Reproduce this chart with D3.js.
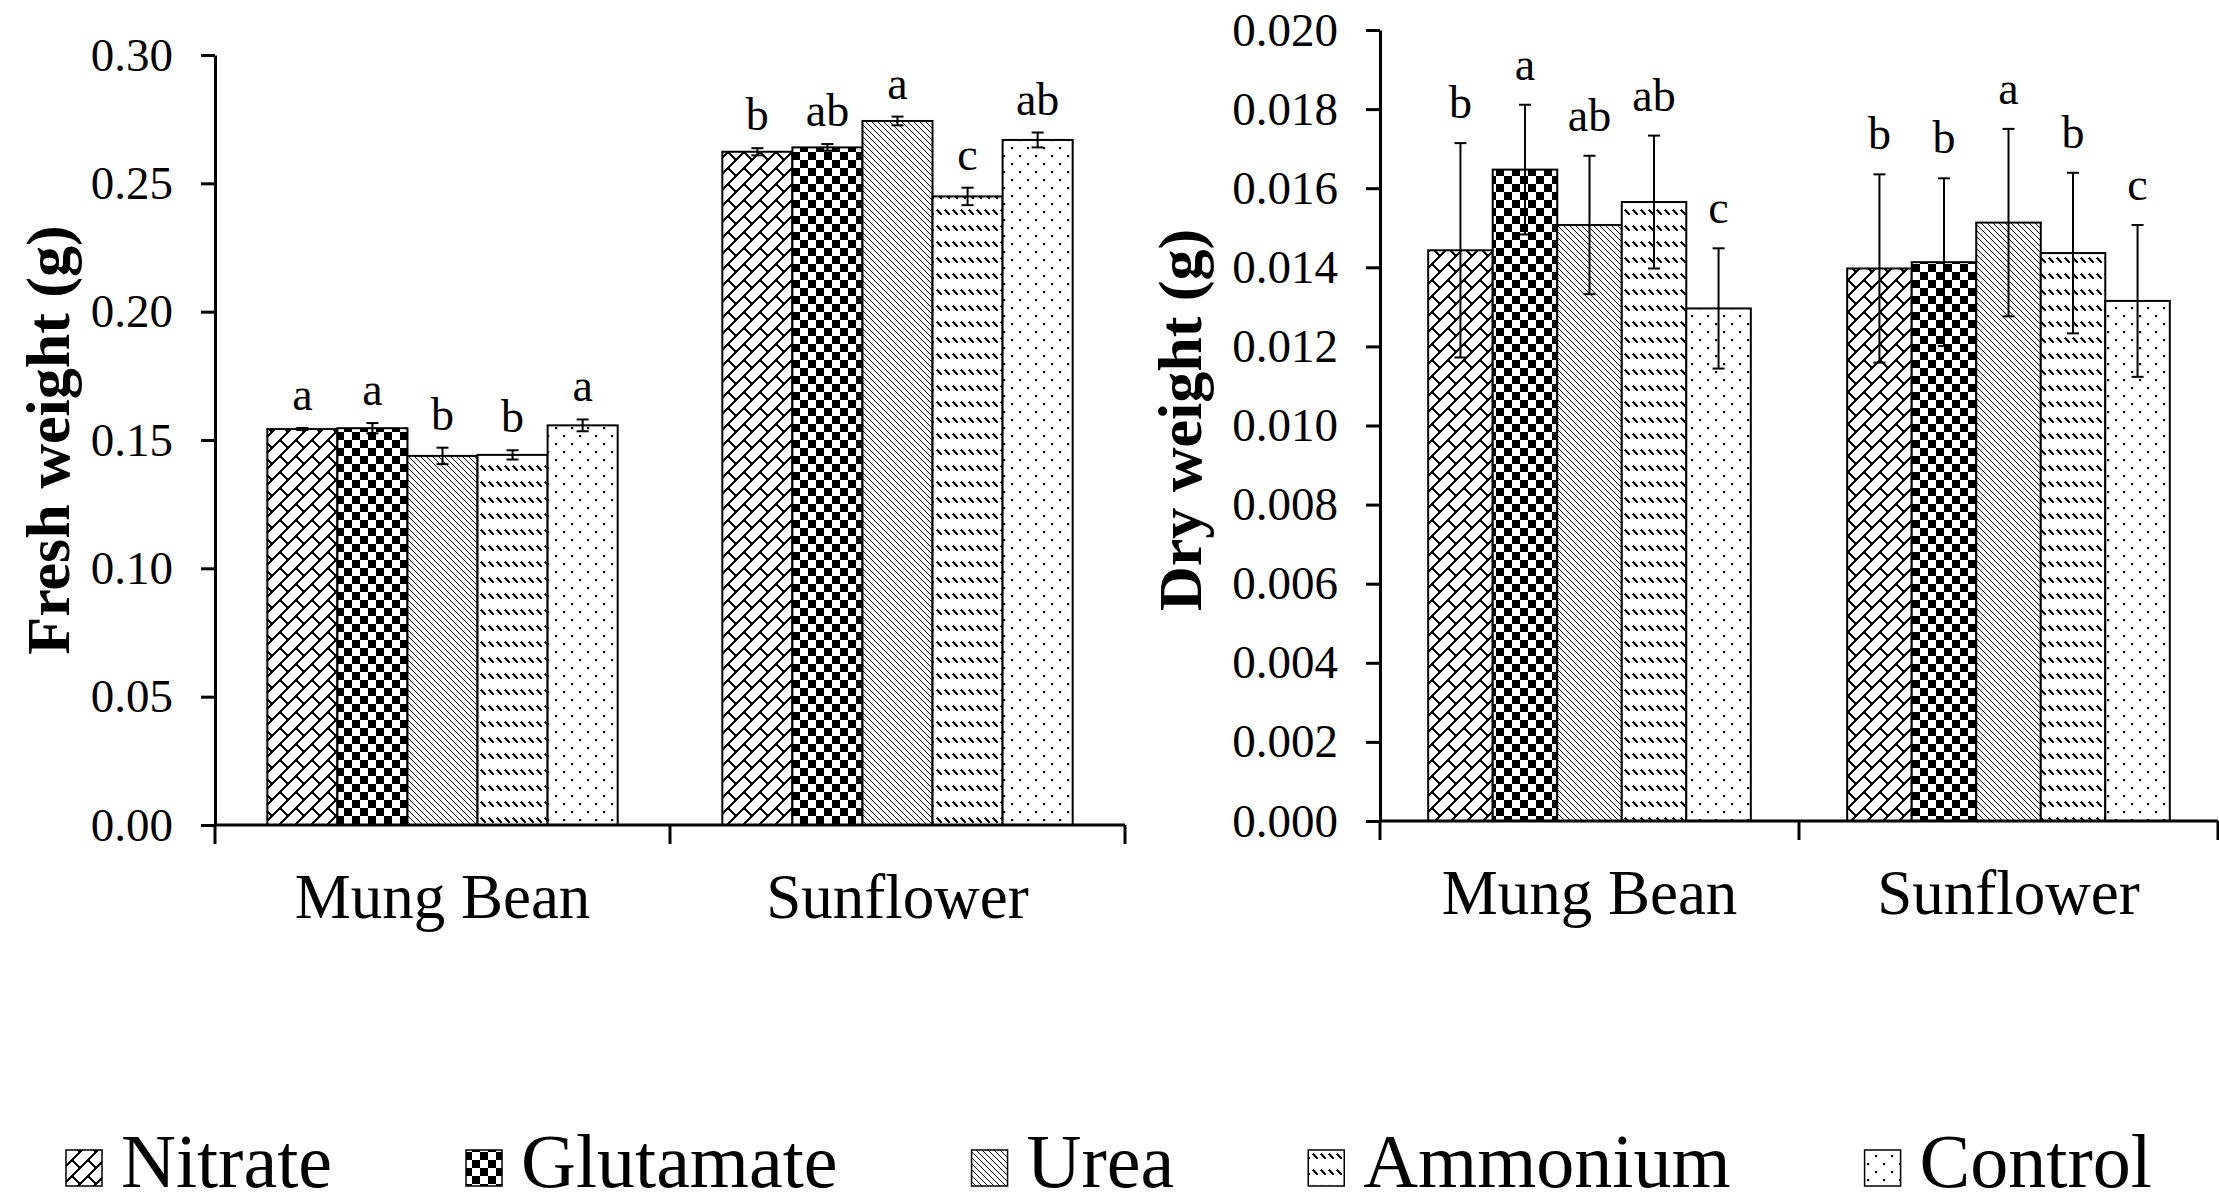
<!DOCTYPE html>
<html><head><meta charset="utf-8">
<script src="https://cdn.jsdelivr.net/npm/d3@7"></script>
<style>html,body{margin:0;padding:0;background:#fff;overflow:hidden}</style>
</head><body><svg id="c" width="2219" height="1204"></svg>
<script>
// ---------------- data ----------------
const categories = ["Mung Bean", "Sunflower"];
const treatments = ["Nitrate", "Glutamate", "Urea", "Ammonium", "Control"];

const freshMean = [[0.1543, 0.1546, 0.1438, 0.1442, 0.1557],
                   [0.2623, 0.2640, 0.2743, 0.2449, 0.2669]];
const freshErr  = [[0.0004, 0.0020, 0.0032, 0.0018, 0.0023],
                   [0.0014, 0.0013, 0.0017, 0.0034, 0.0029]];
const freshLetters = [["a", "a", "b", "b", "a"],
                      ["b", "ab", "a", "c", "ab"]];
const freshTicks = [0, 0.05, 0.10, 0.15, 0.20, 0.25, 0.30];

const dryMean = [[0.01443, 0.01647, 0.01507, 0.01565, 0.01296],
                 [0.01397, 0.01413, 0.01513, 0.01436, 0.01315]];
const dryErr  = [[0.00271, 0.00164, 0.00175, 0.00168, 0.00152],
                 [0.00238, 0.00212, 0.00237, 0.00203, 0.00192]];
const dryLetters = [["b", "a", "ab", "ab", "c"],
                    ["b", "b", "a", "b", "c"]];
const dryTicks = [0, 0.002, 0.004, 0.006, 0.008, 0.010, 0.012, 0.014, 0.016, 0.018, 0.020];

const yTitles = ["Fresh weight (g)", "Dry weight (g)"];

// ---------------- setup ----------------
const W = 2219, H = 1204;
const FONT = "'Liberation Serif','Times New Roman',Times,serif";
const svg = d3.select("#c");
svg.append("rect").attr("width", W).attr("height", H).attr("fill", "#fff");
const defs = svg.append("defs");

function pat(id, w, h, draw) {
  const p = defs.append("pattern").attr("id", id)
    .attr("patternUnits", "userSpaceOnUse").attr("width", w).attr("height", h);
  p.append("rect").attr("width", w).attr("height", h).attr("fill", "#fff");
  draw(p);
}
function ln(p, x1, y1, x2, y2, sw) {
  p.append("line").attr("x1", x1).attr("y1", y1).attr("x2", x2).attr("y2", y2)
    .attr("stroke", "#000").attr("stroke-width", sw).attr("shape-rendering", "crispEdges");
}
// Nitrate: diagonal brick
pat("p0", 16, 16, p => {
  ln(p, -2, 2, 2, -2, 1.6);
  ln(p, -1, 17, 17, -1, 1.6);
  ln(p, 14, 18, 18, 14, 1.6);
  ln(p, 8, 8, 16, 16, 1.6);
});
// Glutamate: checkerboard
pat("p1", 16, 16, p => {
  p.append("rect").attr("x", 0).attr("y", 0).attr("width", 8).attr("height", 8).attr("fill", "#000");
  p.append("rect").attr("x", 8).attr("y", 8).attr("width", 8).attr("height", 8).attr("fill", "#000");
});
// Urea: dense downward diagonal
pat("p2", 6, 6, p => {
  ln(p, -1, -1, 7, 7, 1.3);
  ln(p, 5, -1, 7, 1, 1.3);
  ln(p, -1, 5, 1, 7, 1.3);
});
// Ammonium: dashed downward diagonal rows
pat("p3", 8, 16, p => {
  ln(p, 1, 2, 6, 7, 2);
});
// Control: sparse dots
pat("p4", 16, 16, p => {
  p.append("rect").attr("x", 3).attr("y", 3).attr("width", 2.2).attr("height", 2.2).attr("fill", "#000");
  p.append("rect").attr("x", 11).attr("y", 11).attr("width", 2.2).attr("height", 2.2).attr("fill", "#000");
});
const fillOf = i => `url(#p${i})`;

// ---------------- chart ----------------
function drawChart(cfg) {
  const { x0, x1, yBase, yTop, yMax, ticks, fmt, means, errs, letters, letterOff, title, titleX, titleY } = cfg;
  const y = d3.scaleLinear().domain([0, yMax]).range([yBase, yTop]);
  const xb = d3.scaleBand().domain(categories).range([x0, x1]).padding(0);
  const bw = xb.bandwidth();
  const xi = d3.scaleBand().domain(treatments).range([0.115 * bw, 0.885 * bw]).padding(0);
  const g = svg.append("g");

  categories.forEach((c, ci) => {
    treatments.forEach((t, ti) => {
      const v = means[ci][ti], e = errs[ci][ti];
      const bx = xb(c) + xi(t), w = xi.bandwidth();
      g.append("rect").attr("x", bx).attr("y", y(v)).attr("width", w).attr("height", yBase - y(v))
        .attr("fill", fillOf(ti)).attr("stroke", "#000").attr("stroke-width", 2);
      const cx = bx + w / 2;
      const eg = g.append("g").attr("stroke", "#000").attr("stroke-width", 2);
      eg.append("line").attr("x1", cx).attr("x2", cx).attr("y1", y(v + e)).attr("y2", y(v - e));
      eg.append("line").attr("x1", cx - 6).attr("x2", cx + 6).attr("y1", y(v + e)).attr("y2", y(v + e));
      eg.append("line").attr("x1", cx - 6).attr("x2", cx + 6).attr("y1", y(v - e)).attr("y2", y(v - e));
      g.append("text").attr("x", cx).attr("y", y(v + e) - letterOff)
        .attr("text-anchor", "middle").attr("font-family", FONT).attr("font-size", 46)
        .text(letters[ci][ti]);
    });
  });

  // y axis
  const ya = g.append("g").attr("transform", `translate(${x0},0)`)
    .call(d3.axisLeft(y).tickValues(ticks).tickFormat(fmt).tickSize(14).tickSizeOuter(0).tickPadding(28));
  ya.attr("font-family", FONT);
  ya.select(".domain").attr("stroke-width", 3);
  ya.selectAll(".tick line").attr("stroke-width", 3);
  ya.selectAll(".tick text").attr("font-family", FONT).attr("font-size", 47).attr("fill", "#000");

  // x axis
  const bounds = [x0, x0 + bw, x1];
  g.append("line").attr("x1", x0).attr("x2", x1).attr("y1", yBase).attr("y2", yBase)
    .attr("stroke", "#000").attr("stroke-width", 3);
  bounds.forEach(bx => g.append("line").attr("x1", bx).attr("x2", bx).attr("y1", yBase).attr("y2", yBase + 19)
    .attr("stroke", "#000").attr("stroke-width", 3));
  categories.forEach(c => g.append("text").attr("x", xb(c) + bw / 2).attr("y", yBase + 93)
    .attr("text-anchor", "middle").attr("font-family", FONT).attr("font-size", 63).text(c));

  // y title
  g.append("text").attr("transform", `translate(${titleX},${titleY}) rotate(-90)`)
    .attr("dy", "0.235em").attr("text-anchor", "middle")
    .attr("font-family", FONT).attr("font-weight", "bold").attr("font-size", 62).text(title);
}

drawChart({ x0: 215, x1: 1125, yBase: 825, yTop: 55, yMax: 0.30, ticks: freshTicks,
  fmt: d3.format(".2f"), means: freshMean, errs: freshErr, letters: freshLetters, letterOff: 18,
  title: yTitles[0], titleX: 54, titleY: 440 });
drawChart({ x0: 1380, x1: 2218, yBase: 821, yTop: 30, yMax: 0.020, ticks: dryTicks,
  fmt: d3.format(".3f"), means: dryMean, errs: dryErr, letters: dryLetters, letterOff: 25,
  title: yTitles[1], titleX: 1186, titleY: 420 });

// ---------------- legend ----------------
const lg = svg.append("g");
let lx = 66;
treatments.forEach((t, i) => {
  lg.append("rect").attr("x", lx).attr("y", 1150).attr("width", 36).attr("height", 36)
    .attr("fill", fillOf(i)).attr("stroke", "#000").attr("stroke-width", 1.5);
  const tx = lg.append("text").attr("x", lx + 55).attr("y", 1187)
    .attr("font-family", FONT).attr("font-size", 76).text(t);
  lx += 55 + tx.node().getComputedTextLength() + 134;
});
</script>
</body></html>
